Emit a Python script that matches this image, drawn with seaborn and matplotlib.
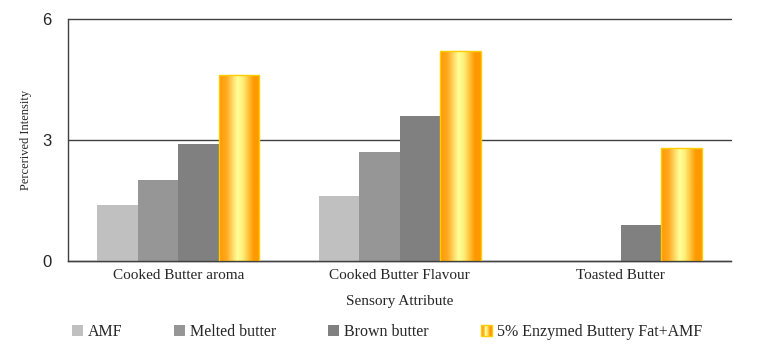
import numpy as np
import pandas as pd
import matplotlib
matplotlib.use('Agg')
import matplotlib.pyplot as plt
import seaborn as sns
from matplotlib.colors import LinearSegmentedColormap
from matplotlib.patches import Rectangle
from matplotlib.legend_handler import HandlerBase

# Data
attributes = ['Cooked Butter aroma', 'Cooked Butter Flavour', 'Toasted Butter']
samples = ['AMF', 'Melted butter', 'Brown butter', '5% Enzymed Buttery Fat+AMF']
amf = [1.4, 1.6, 0.0]
melted = [2.0, 2.7, 0.0]
brown = [2.9, 3.6, 0.9]
enzymed = [4.6, 5.2, 2.8]
y_ticks = [0, 3, 6]

colors = ['#c0c0c0', '#969696', '#808080', '#ff9900']
gold_edge = '#ffcc00'
gold_cmap = LinearSegmentedColormap.from_list(
    'gold', [(0.0, '#ff9900'), (0.18, '#ffa820'), (0.45, '#ffff99'),
             (0.58, '#fff07a'), (0.85, '#ff9900'), (1.0, '#ff9900')])

rows = []
for name, vals in zip(samples, [amf, melted, brown, enzymed]):
    for attr, v in zip(attributes, vals):
        rows.append({'attribute': attr, 'sample': name, 'value': v})
df = pd.DataFrame(rows)

sns.set_style('white')
serif = ['Liberation Serif', 'DejaVu Serif']
sans = ['Liberation Sans', 'DejaVu Sans']

fig = plt.figure(figsize=(7.57, 3.56), dpi=100)
ax = fig.add_axes([0.0898, 0.2669, 0.8759, 0.6797])

sns.barplot(data=df, x='attribute', y='value', hue='sample', order=attributes,
            hue_order=samples, palette=colors, width=0.733, saturation=1,
            errorbar=None, legend=False, ax=ax)

for cont in ax.containers[:3]:
    for bar in cont:
        bar.set_edgecolor('none')
        bar.set_linewidth(0)

# gradient fill for the enzymed series
grad = np.linspace(0, 1, 256).reshape(1, -1)
for bar in ax.containers[3]:
    x, w, h = bar.get_x(), bar.get_width(), bar.get_height()
    bar.set_facecolor('none')
    bar.set_edgecolor(gold_edge)
    bar.set_linewidth(1)
    bar.set_zorder(3)
    im = ax.imshow(grad, extent=[x, x + w, 0, h], aspect='auto', cmap=gold_cmap,
                   interpolation='bilinear', zorder=2)
    im.set_clip_path(bar)

ax.set_xlim(-0.5, 2.5)
ax.set_ylim(0, 6)
ax.set_yticks(y_ticks)
ax.set_yticklabels([str(t) for t in y_ticks], family=sans, fontsize=12)
ax.tick_params(axis='y', length=0, pad=12)
ax.set_xticks(range(len(attributes)))
ax.set_xticklabels(attributes, family=serif, fontsize=11)
ax.tick_params(axis='x', which='major', length=0, pad=6)
ax.set_xticks([0.5, 1.5, 2.5], minor=True)
ax.tick_params(axis='x', which='minor', direction='in', length=4, width=1, color='#404040')

ax.yaxis.grid(True, color='#404040', linewidth=1)
ax.set_axisbelow(True)
for gl in ax.get_ygridlines():
    gl.set_clip_on(False)
for side in ['top', 'right']:
    ax.spines[side].set_visible(False)
for side in ['left', 'bottom']:
    ax.spines[side].set_color('#404040')
    ax.spines[side].set_linewidth(1)

ax.set_xlabel('Sensory Attribute', family=serif, fontsize=11, labelpad=9)
ax.set_ylabel('Percerived Intensity', family=serif, fontsize=9, labelpad=7)


class GradientHandler(HandlerBase):
    def create_artists(self, legend, orig_handle, xdescent, ydescent, width,
                       height, fontsize, trans):
        arts = []
        n = 12
        for i in range(n):
            c = gold_cmap((i + 0.5) / n)
            arts.append(Rectangle((-xdescent + width * i / n, -ydescent), width / n,
                                  height, facecolor=c, edgecolor='none', transform=trans))
        arts.append(Rectangle((-xdescent, -ydescent), width, height, facecolor='none',
                              edgecolor=gold_edge, linewidth=1, transform=trans))
        return arts


handles = [Rectangle((0, 0), 1, 1, facecolor=c, edgecolor='none') for c in colors[:3]]
gold_handle = Rectangle((0, 0), 1, 1, facecolor=colors[3])
handles.append(gold_handle)
fig.legend(handles, samples, loc='center', bbox_to_anchor=(0.511, 0.068), ncol=4,
           frameon=False, prop={'family': serif, 'size': 11.5},
           handlelength=0.7, handleheight=0.7, handletextpad=0.3,
           columnspacing=3.25, handler_map={gold_handle: GradientHandler()})

fig.savefig('out.png', dpi=100)
